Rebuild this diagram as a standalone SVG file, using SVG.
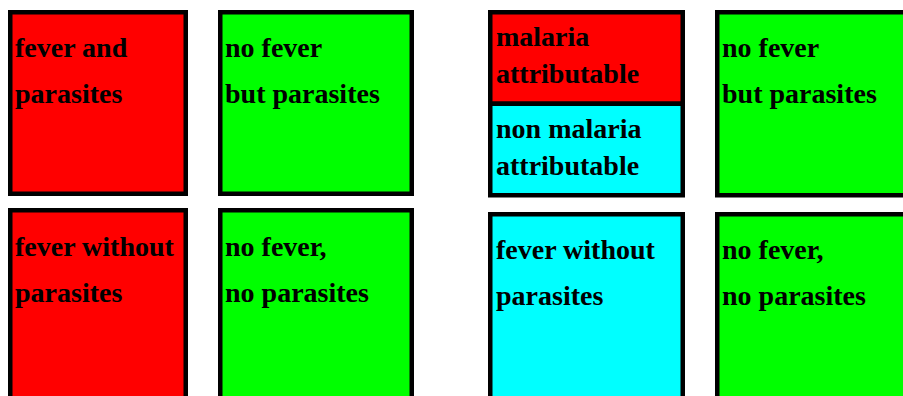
<svg xmlns="http://www.w3.org/2000/svg" width="903" height="396" viewBox="0 0 903 396">
<style>
.box{stroke:#000;stroke-width:4.5}
.r{fill:#ff0000}.g{fill:#00ff00}.c{fill:#00ffff}
text{font-family:"Liberation Serif","Times New Roman",serif;font-weight:bold;font-size:28px;fill:#000}
</style>
<rect width="903" height="396" fill="#fff"/>
<g id="fever-and-parasites">
<rect class="box r" x="10.25" y="12.25" width="175.5" height="181.5"/>
<text x="15" y="57">fever and</text>
<text x="15" y="103">parasites</text>
</g>
<g id="no-fever-but-parasites-left">
<rect class="box g" x="220.25" y="12.25" width="191.5" height="181.5"/>
<text x="225" y="57">no fever</text>
<text x="225" y="103">but parasites</text>
</g>
<g id="malaria-split">
<rect class="box r" x="490.25" y="12.25" width="192.5" height="91.5"/>
<rect class="box c" x="490.25" y="103.75" width="192.5" height="91.5"/>
<text x="496" y="46">malaria</text>
<text x="496" y="83">attributable</text>
<text x="496" y="138">non malaria</text>
<text x="496" y="175">attributable</text>
</g>
<g id="no-fever-but-parasites-right">
<rect class="box g" x="717.25" y="12.25" width="200" height="183"/>
<text x="722" y="57">no fever</text>
<text x="722" y="103">but parasites</text>
</g>
<g id="fever-without-parasites-left">
<rect class="box r" x="10.25" y="210.25" width="175.5" height="200"/>
<text x="15" y="256">fever without</text>
<text x="15" y="302">parasites</text>
</g>
<g id="no-fever-no-parasites-left">
<rect class="box g" x="220.25" y="210.25" width="191.5" height="200"/>
<text x="225" y="256">no fever,</text>
<text x="225" y="302">no parasites</text>
</g>
<g id="fever-without-parasites-right">
<rect class="box c" x="490.25" y="214.25" width="192.5" height="200"/>
<text x="496" y="259">fever without</text>
<text x="496" y="305">parasites</text>
</g>
<g id="no-fever-no-parasites-right">
<rect class="box g" x="717.25" y="214.25" width="200" height="200"/>
<text x="722" y="259">no fever,</text>
<text x="722" y="305">no parasites</text>
</g>
<g id="connectors"/>
</svg>
